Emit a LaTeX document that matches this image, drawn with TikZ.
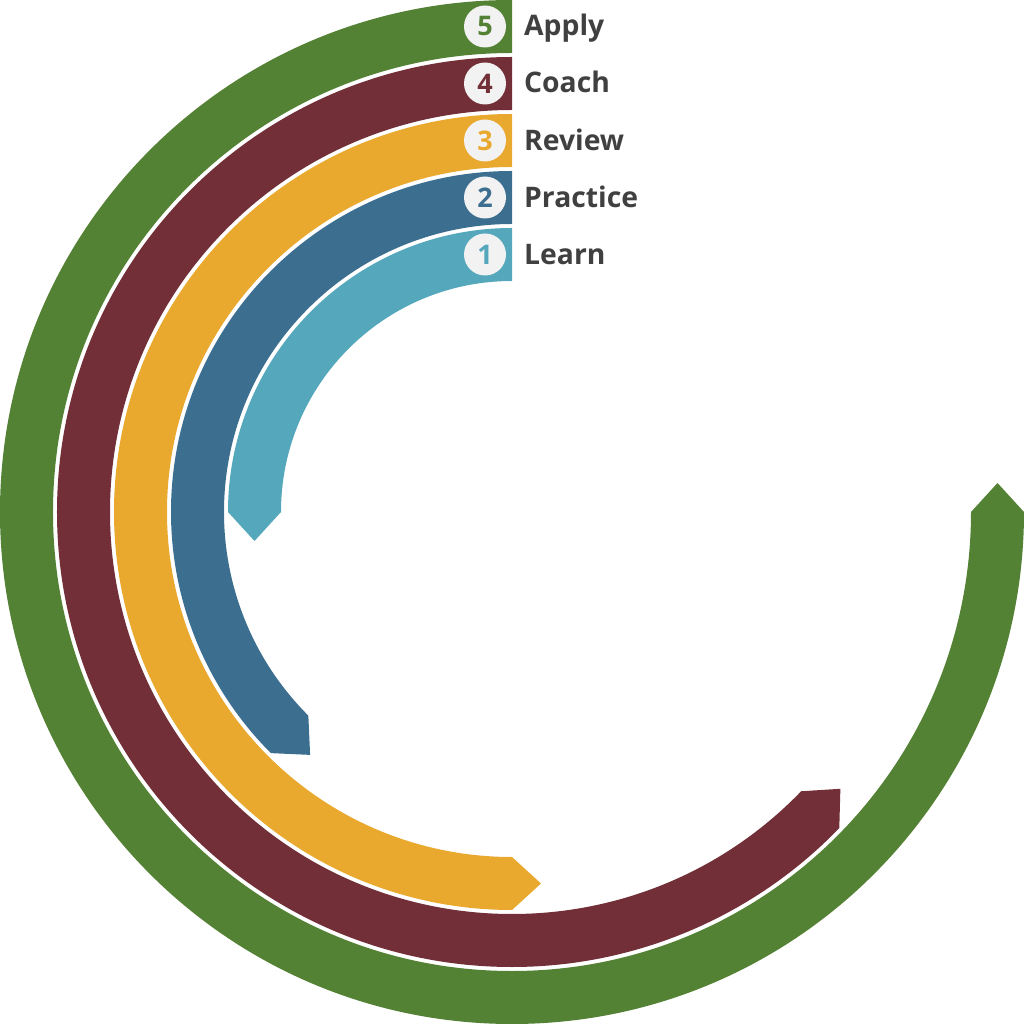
\documentclass[tikz,border=0pt]{standalone}
\usepackage{fontspec}
\setmainfont{Open Sans}
\usetikzlibrary{calc}
\definecolor{cApply}{HTML}{548235}
\definecolor{cCoach}{HTML}{722F37}
\definecolor{cReview}{HTML}{E9A82E}
\definecolor{cPractice}{HTML}{3C6E8F}
\definecolor{cLearn}{HTML}{55A7BC}
\definecolor{circfill}{HTML}{F2F2F2}
\definecolor{txtgray}{HTML}{404040}
\newcommand\drawband[4]{% color, Rout, Rin, end angle
  \fill[#1] (90:#2) arc[start angle=90,end angle=#4,radius=#2]
    -- ($({#4}:{(#2+#3)/2})+({#4+90}:29)$)
    -- ({#4}:#3) arc[start angle=#4,end angle=90,radius=#3] -- cycle;
}
\begin{document}
\begin{tikzpicture}[x=1pt,y=1pt,
  lbl/.style={anchor=base west, inner sep=0pt, text=txtgray, font=\fontsize{28.3}{32}\selectfont\bfseries},
  num/.style={circle, fill=circfill, minimum size=42pt, inner sep=0pt, font=\fontsize{27}{30}\selectfont\bfseries}]
\useasboundingbox (-512,-512) rectangle (512,512);
\drawband{cApply}{512}{459}{360}
\drawband{cCoach}{455}{402}{316}
\drawband{cReview}{398}{345}{270}
\drawband{cPractice}{341}{288}{225}
\drawband{cLearn}{284}{231}{180}
% number badges
\node[num, text=cApply]    (n5) at (-27,485.5) {5};
\node[num, text=cCoach]    (n4) at (-27,428.5) {4};
\node[num, text=cReview]   (n3) at (-27,371.5) {3};
\node[num, text=cPractice] (n2) at (-27,314.5) {2};
\node[num, text=cLearn]    (n1) at (-27,257.5) {1};
% labels
\node[lbl] (l5) at (12,476) {Apply};
\node[lbl] (l4) at (12,419) {Coach};
\node[lbl] (l3) at (12,361.5) {Review};
\node[lbl] (l2) at (12,304) {Practice};
\node[lbl] (l1) at (12,247) {Learn};
\end{tikzpicture}
\end{document}
